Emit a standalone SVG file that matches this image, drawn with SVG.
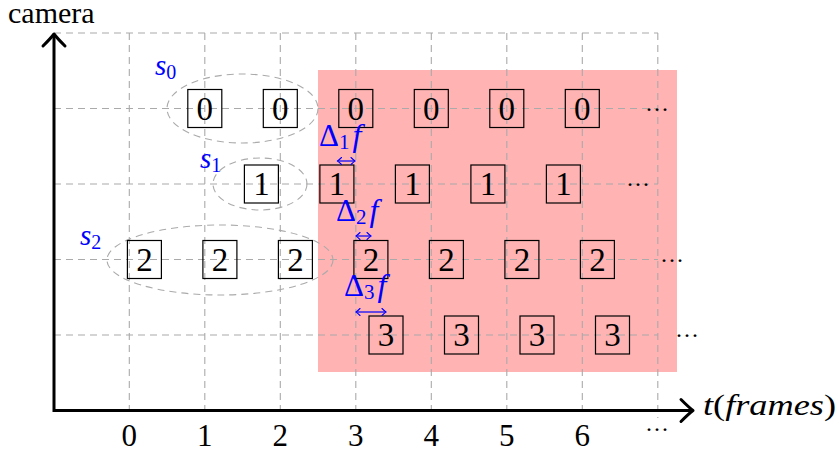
<svg xmlns="http://www.w3.org/2000/svg" width="839" height="450" viewBox="0 0 839 450" font-family="'Liberation Serif', serif">
<style>
.grid{stroke:#aaaaaa;stroke-width:1.1;stroke-dasharray:7 5;fill:none}
.ell{stroke:#aaaaaa;stroke-width:1.1;stroke-dasharray:7 5;fill:none}
.box{fill:none;stroke:#000;stroke-width:1.2}
.num{font-size:33px;text-anchor:middle;fill:#000}
.tick{font-size:31px;text-anchor:middle;fill:#000}
.dots{font-size:24px;letter-spacing:2px;fill:#000}
.lbl{fill:#0000ff}
.it{font-style:italic}
.axis{stroke:#000;stroke-width:3;fill:none}
.darr{stroke:#0000ff;stroke-width:1.2;fill:none}
</style>
<defs>
<marker id="axtip" markerUnits="userSpaceOnUse" markerWidth="30" markerHeight="30" viewBox="-15 -15 30 30" refX="0" refY="0" orient="auto">
<path d="M-12,-11 Q-4,-3 0,0 Q-4,3 -12,11" stroke="#000" stroke-width="3" fill="none" stroke-linecap="round" stroke-linejoin="round"/>
</marker>
<marker id="btip" markerUnits="userSpaceOnUse" markerWidth="12" markerHeight="12" viewBox="-6 -6 12 12" refX="0" refY="0" orient="auto-start-reverse">
<path d="M-4,-3.5 Q-1.5,-1 0,0 Q-1.5,1 -4,3.5" stroke="#0000ff" stroke-width="1.1" fill="none" stroke-linecap="round"/>
</marker>
</defs>

<rect id="region" x="318" y="70" width="359" height="302" fill="#ffb3b3"/>

<g id="grid">
<line class="grid" x1="54" y1="33" x2="658" y2="33"/>
<line class="grid" x1="54" y1="108.5" x2="658" y2="108.5"/>
<line class="grid" x1="54" y1="184" x2="658" y2="184"/>
<line class="grid" x1="54" y1="259.5" x2="658" y2="259.5"/>
<line class="grid" x1="54" y1="335" x2="658" y2="335"/>
<line class="grid" x1="129.3" y1="33" x2="129.3" y2="414"/>
<line class="grid" x1="204.8" y1="33" x2="204.8" y2="414"/>
<line class="grid" x1="280.3" y1="33" x2="280.3" y2="414"/>
<line class="grid" x1="355.8" y1="33" x2="355.8" y2="414"/>
<line class="grid" x1="431.3" y1="33" x2="431.3" y2="414"/>
<line class="grid" x1="506.8" y1="33" x2="506.8" y2="414"/>
<line class="grid" x1="582.3" y1="33" x2="582.3" y2="414"/>
<line class="grid" x1="657.8" y1="33" x2="657.8" y2="418"/>
</g>

<g id="ellipses">
<ellipse class="ell" cx="242.5" cy="108.5" rx="75.5" ry="34.5"/>
<ellipse class="ell" cx="260" cy="184" rx="47" ry="26"/>
<ellipse class="ell" cx="220" cy="260" rx="113" ry="35"/>
</g>

<g id="nodes" font-family="'Liberation Serif', serif">
<g id="n0_0"><rect class="box" x="187.8" y="89.5" width="34" height="38"/><text class="num" x="204.8" y="119.5">0</text></g>
<g id="n0_1"><rect class="box" x="263.3" y="89.5" width="34" height="38"/><text class="num" x="280.3" y="119.5">0</text></g>
<g id="n0_2"><rect class="box" x="338.8" y="89.5" width="34" height="38"/><text class="num" x="355.8" y="119.5">0</text></g>
<g id="n0_3"><rect class="box" x="414.3" y="89.5" width="34" height="38"/><text class="num" x="431.3" y="119.5">0</text></g>
<g id="n0_4"><rect class="box" x="489.8" y="89.5" width="34" height="38"/><text class="num" x="506.8" y="119.5">0</text></g>
<g id="n0_5"><rect class="box" x="565.3" y="89.5" width="34" height="38"/><text class="num" x="582.3" y="119.5">0</text></g>

<g id="n1_0"><rect class="box" x="244.4" y="165" width="34" height="38"/><text class="num" x="261.4" y="195">1</text></g>
<g id="n1_1"><rect class="box" x="319.9" y="165" width="34" height="38"/><text class="num" x="336.9" y="195">1</text></g>
<g id="n1_2"><rect class="box" x="395.4" y="165" width="34" height="38"/><text class="num" x="412.4" y="195">1</text></g>
<g id="n1_3"><rect class="box" x="470.9" y="165" width="34" height="38"/><text class="num" x="487.9" y="195">1</text></g>
<g id="n1_4"><rect class="box" x="546.4" y="165" width="34" height="38"/><text class="num" x="563.4" y="195">1</text></g>

<g id="n2_0"><rect class="box" x="127.4" y="240.5" width="34" height="38"/><text class="num" x="144.4" y="270.5">2</text></g>
<g id="n2_1"><rect class="box" x="202.9" y="240.5" width="34" height="38"/><text class="num" x="219.9" y="270.5">2</text></g>
<g id="n2_2"><rect class="box" x="278.4" y="240.5" width="34" height="38"/><text class="num" x="295.4" y="270.5">2</text></g>
<g id="n2_3"><rect class="box" x="353.9" y="240.5" width="34" height="38"/><text class="num" x="370.9" y="270.5">2</text></g>
<g id="n2_4"><rect class="box" x="429.4" y="240.5" width="34" height="38"/><text class="num" x="446.4" y="270.5">2</text></g>
<g id="n2_5"><rect class="box" x="504.9" y="240.5" width="34" height="38"/><text class="num" x="521.9" y="270.5">2</text></g>
<g id="n2_6"><rect class="box" x="580.4" y="240.5" width="34" height="38"/><text class="num" x="597.4" y="270.5">2</text></g>

<g id="n3_0"><rect class="box" x="369" y="316" width="34" height="38"/><text class="num" x="386" y="346">3</text></g>
<g id="n3_1"><rect class="box" x="444.5" y="316" width="34" height="38"/><text class="num" x="461.5" y="346">3</text></g>
<g id="n3_2"><rect class="box" x="520" y="316" width="34" height="38"/><text class="num" x="537" y="346">3</text></g>
<g id="n3_3"><rect class="box" x="595.5" y="316" width="34" height="38"/><text class="num" x="612.5" y="346">3</text></g>
</g>

<g id="dots" font-family="'Liberation Serif', serif">
<text class="dots" x="646" y="110.5">...</text>
<text class="dots" x="627" y="186">...</text>
<text class="dots" x="661" y="261.5">...</text>
<text class="dots" x="676" y="337">...</text>
<text class="dots" x="646" y="431">...</text>
</g>

<g id="axes" font-family="'Liberation Serif', serif">
<path class="axis" d="M54,410.5 L693,410.5" marker-end="url(#axtip)"/>
<line class="axis" x1="54" y1="412" x2="54" y2="34" marker-end="url(#axtip)"/>
<text x="8" y="23" font-size="30">camera</text>
<text x="703" y="415" font-size="30" textLength="133" lengthAdjust="spacingAndGlyphs"><tspan font-style="italic">t</tspan>(<tspan font-style="italic">frames</tspan>)</text>
</g>

<g id="ticks" font-family="'Liberation Serif', serif">
<text class="tick" x="129.3" y="446">0</text>
<text class="tick" x="204.8" y="446">1</text>
<text class="tick" x="280.3" y="446">2</text>
<text class="tick" x="355.8" y="446">3</text>
<text class="tick" x="431.3" y="446">4</text>
<text class="tick" x="506.8" y="446">5</text>
<text class="tick" x="582.3" y="446">6</text>
</g>

<g id="labels" font-family="'Liberation Serif', serif">
<text class="lbl" x="155" y="75" font-size="29"><tspan class="it">s</tspan><tspan font-size="20" dy="4">0</tspan></text>
<text class="lbl" x="200" y="168" font-size="29"><tspan class="it">s</tspan><tspan font-size="20" dy="4">1</tspan></text>
<text class="lbl" x="80" y="245" font-size="29"><tspan class="it">s</tspan><tspan font-size="20" dy="4">2</tspan></text>
<text class="lbl" x="319" y="146" font-size="31">Δ<tspan font-size="21" dy="3">1</tspan><tspan class="it" font-size="32" dx="3" dy="-3">f</tspan></text>
<text class="lbl" x="336" y="221" font-size="31">Δ<tspan font-size="21" dy="3">2</tspan><tspan class="it" font-size="32" dx="3" dy="-3">f</tspan></text>
<text class="lbl" x="344" y="296" font-size="31">Δ<tspan font-size="21" dy="3">3</tspan><tspan class="it" font-size="32" dx="3" dy="-3">f</tspan></text>
</g>

<g id="connectors">
<line class="darr" x1="337.5" y1="161" x2="355" y2="161" marker-start="url(#btip)" marker-end="url(#btip)"/>
<line class="darr" x1="356" y1="236" x2="371" y2="236" marker-start="url(#btip)" marker-end="url(#btip)"/>
<line class="darr" x1="356" y1="312" x2="386" y2="312" marker-start="url(#btip)" marker-end="url(#btip)"/>
</g>
</svg>
